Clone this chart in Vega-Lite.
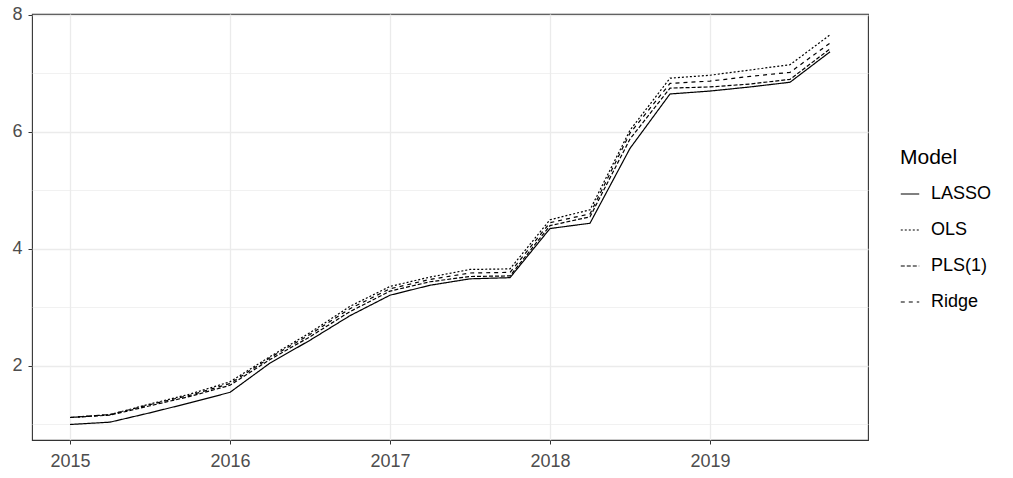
{
  "$schema": "https://vega.github.io/schema/vega-lite/v6.json",
  "width": 836,
  "height": 426,
  "autosize": {"type": "none"},
  "padding": {"left": 32, "top": 14, "right": 145, "bottom": 38},
  "background": "white",
  "config": {
    "font": "Liberation Sans",
    "view": {"stroke": "#333333", "strokeWidth": 1.1},
    "axis": {"domain": false}
  },
  "data": {
    "values": [
      {"t": 2015.00, "model": "LASSO", "v": 1.00},
      {"t": 2015.25, "model": "LASSO", "v": 1.04},
      {"t": 2015.50, "model": "LASSO", "v": 1.20},
      {"t": 2015.75, "model": "LASSO", "v": 1.37},
      {"t": 2016.00, "model": "LASSO", "v": 1.55},
      {"t": 2016.25, "model": "LASSO", "v": 2.05},
      {"t": 2016.50, "model": "LASSO", "v": 2.44},
      {"t": 2016.75, "model": "LASSO", "v": 2.86},
      {"t": 2017.00, "model": "LASSO", "v": 3.21},
      {"t": 2017.25, "model": "LASSO", "v": 3.38},
      {"t": 2017.50, "model": "LASSO", "v": 3.49},
      {"t": 2017.75, "model": "LASSO", "v": 3.51},
      {"t": 2018.00, "model": "LASSO", "v": 4.35},
      {"t": 2018.25, "model": "LASSO", "v": 4.44},
      {"t": 2018.50, "model": "LASSO", "v": 5.72},
      {"t": 2018.75, "model": "LASSO", "v": 6.65},
      {"t": 2019.00, "model": "LASSO", "v": 6.70},
      {"t": 2019.25, "model": "LASSO", "v": 6.77},
      {"t": 2019.50, "model": "LASSO", "v": 6.85},
      {"t": 2019.75, "model": "LASSO", "v": 7.37},
      {"t": 2015.00, "model": "OLS", "v": 1.12},
      {"t": 2015.25, "model": "OLS", "v": 1.17},
      {"t": 2015.50, "model": "OLS", "v": 1.35},
      {"t": 2015.75, "model": "OLS", "v": 1.52},
      {"t": 2016.00, "model": "OLS", "v": 1.73},
      {"t": 2016.25, "model": "OLS", "v": 2.16},
      {"t": 2016.50, "model": "OLS", "v": 2.57},
      {"t": 2016.75, "model": "OLS", "v": 3.02},
      {"t": 2017.00, "model": "OLS", "v": 3.36},
      {"t": 2017.25, "model": "OLS", "v": 3.52},
      {"t": 2017.50, "model": "OLS", "v": 3.65},
      {"t": 2017.75, "model": "OLS", "v": 3.66},
      {"t": 2018.00, "model": "OLS", "v": 4.50},
      {"t": 2018.25, "model": "OLS", "v": 4.67},
      {"t": 2018.50, "model": "OLS", "v": 6.03},
      {"t": 2018.75, "model": "OLS", "v": 6.92},
      {"t": 2019.00, "model": "OLS", "v": 6.97},
      {"t": 2019.25, "model": "OLS", "v": 7.06},
      {"t": 2019.50, "model": "OLS", "v": 7.15},
      {"t": 2019.75, "model": "OLS", "v": 7.66},
      {"t": 2015.00, "model": "PLS(1)", "v": 1.12},
      {"t": 2015.25, "model": "PLS(1)", "v": 1.16},
      {"t": 2015.50, "model": "PLS(1)", "v": 1.32},
      {"t": 2015.75, "model": "PLS(1)", "v": 1.48},
      {"t": 2016.00, "model": "PLS(1)", "v": 1.67},
      {"t": 2016.25, "model": "PLS(1)", "v": 2.11},
      {"t": 2016.50, "model": "PLS(1)", "v": 2.50},
      {"t": 2016.75, "model": "PLS(1)", "v": 2.93},
      {"t": 2017.00, "model": "PLS(1)", "v": 3.28},
      {"t": 2017.25, "model": "PLS(1)", "v": 3.44},
      {"t": 2017.50, "model": "PLS(1)", "v": 3.53},
      {"t": 2017.75, "model": "PLS(1)", "v": 3.54},
      {"t": 2018.00, "model": "PLS(1)", "v": 4.40},
      {"t": 2018.25, "model": "PLS(1)", "v": 4.55},
      {"t": 2018.50, "model": "PLS(1)", "v": 5.88},
      {"t": 2018.75, "model": "PLS(1)", "v": 6.75},
      {"t": 2019.00, "model": "PLS(1)", "v": 6.77},
      {"t": 2019.25, "model": "PLS(1)", "v": 6.82},
      {"t": 2019.50, "model": "PLS(1)", "v": 6.90},
      {"t": 2019.75, "model": "PLS(1)", "v": 7.42},
      {"t": 2015.00, "model": "Ridge", "v": 1.12},
      {"t": 2015.25, "model": "Ridge", "v": 1.17},
      {"t": 2015.50, "model": "Ridge", "v": 1.34},
      {"t": 2015.75, "model": "Ridge", "v": 1.50},
      {"t": 2016.00, "model": "Ridge", "v": 1.70},
      {"t": 2016.25, "model": "Ridge", "v": 2.14},
      {"t": 2016.50, "model": "Ridge", "v": 2.54},
      {"t": 2016.75, "model": "Ridge", "v": 2.98},
      {"t": 2017.00, "model": "Ridge", "v": 3.32},
      {"t": 2017.25, "model": "Ridge", "v": 3.48},
      {"t": 2017.50, "model": "Ridge", "v": 3.59},
      {"t": 2017.75, "model": "Ridge", "v": 3.60},
      {"t": 2018.00, "model": "Ridge", "v": 4.45},
      {"t": 2018.25, "model": "Ridge", "v": 4.60},
      {"t": 2018.50, "model": "Ridge", "v": 5.98},
      {"t": 2018.75, "model": "Ridge", "v": 6.83},
      {"t": 2019.00, "model": "Ridge", "v": 6.87},
      {"t": 2019.25, "model": "Ridge", "v": 6.95},
      {"t": 2019.50, "model": "Ridge", "v": 7.02},
      {"t": 2019.75, "model": "Ridge", "v": 7.52}
    ]
  },
  "mark": {"type": "line", "color": "black", "strokeWidth": 1.2},
  "encoding": {
    "x": {
      "field": "t",
      "type": "quantitative",
      "scale": {"domain": [2014.7625, 2019.9875], "nice": false, "zero": false},
      "axis": {
        "title": null,
        "values": [2015, 2015.5, 2016, 2016.5, 2017, 2017.5, 2018, 2018.5, 2019, 2019.5],
        "labelExpr": "datum.value % 1 == 0 ? datum.value : ''",
        "format": "d",
        "labelFontSize": 18,
        "labelColor": "#4D4D4D",
        "labelPadding": 8,
        "tickSize": 4,
        "tickColor": {"condition": {"test": "datum.value % 1 != 0", "value": "transparent"}, "value": "#333333"},
        "gridColor": "#EBEBEB",
        "gridWidth": {"condition": {"test": "datum.value % 1 != 0", "value": 0.7}, "value": 1.3}
      }
    },
    "y": {
      "field": "v",
      "type": "quantitative",
      "scale": {"domain": [0.735, 8.017], "nice": false, "zero": false},
      "axis": {
        "title": null,
        "values": [1, 2, 3, 4, 5, 6, 7, 8],
        "labelExpr": "datum.value % 2 == 0 ? datum.value : ''",
        "labelFontSize": 18,
        "labelColor": "#4D4D4D",
        "labelPadding": 6,
        "tickSize": 4,
        "tickColor": {"condition": {"test": "datum.value % 2 != 0", "value": "transparent"}, "value": "#333333"},
        "gridColor": "#EBEBEB",
        "gridWidth": {"condition": {"test": "datum.value % 2 != 0", "value": 0.7}, "value": 1.3}
      }
    },
    "strokeDash": {
      "field": "model",
      "type": "nominal",
      "scale": {
        "domain": ["LASSO", "OLS", "PLS(1)", "Ridge"],
        "range": [[1, 0], [2, 2], [4, 2], [4, 4]]
      },
      "legend": {
        "title": "Model",
        "orient": "none",
        "legendX": 868,
        "legendY": 133,
        "titleFontSize": 21,
        "titleFontWeight": "normal",
        "titleColor": "black",
        "titlePadding": 16,
        "labelFontSize": 18,
        "labelColor": "black",
        "labelOffset": 11,
        "symbolType": "stroke",
        "symbolSize": 340,
        "symbolStrokeColor": "black",
        "symbolStrokeWidth": 1.2,
        "rowPadding": 17,
        "padding": 0
      }
    }
  }
}
